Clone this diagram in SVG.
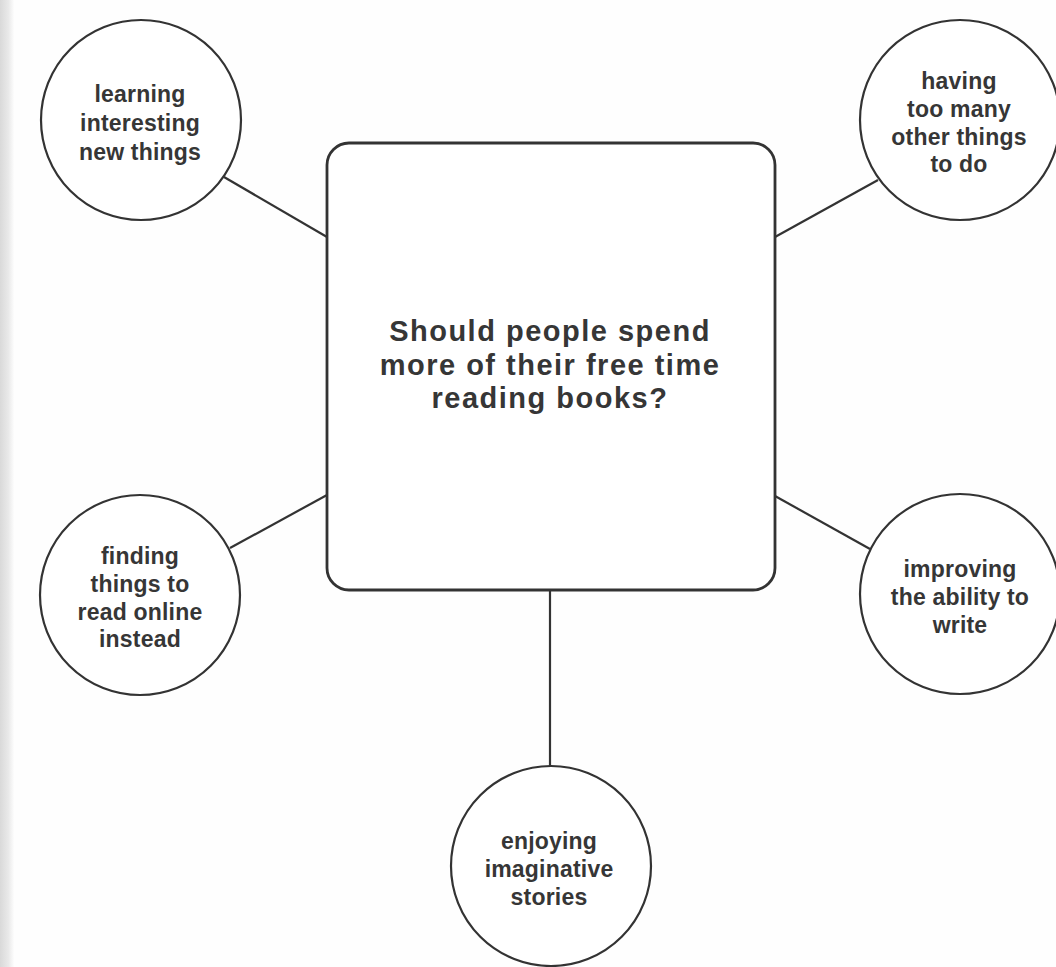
<svg xmlns="http://www.w3.org/2000/svg" width="1056" height="967" viewBox="0 0 1056 967">
  <defs>
    <linearGradient id="edge" x1="0" y1="0" x2="1" y2="0">
      <stop offset="0" stop-color="#d9d9d9"/>
      <stop offset="0.6" stop-color="#e9e9e9"/>
      <stop offset="1" stop-color="#fdfdfd"/>
    </linearGradient>
  </defs>
  <style>
    .bg { fill: #fefefe; }
    .node { fill: #ffffff; stroke: #333333; stroke-width: 2.2; }
    .box { fill: #ffffff; stroke: #333333; stroke-width: 2.8; }
    .conn { stroke: #333333; stroke-width: 2.2; fill: none; }
    .lbl { font-family: "Liberation Sans", Arial, Helvetica, sans-serif; font-weight: bold; font-size: 23px; letter-spacing: 0.2px; fill: #363636; text-anchor: middle; }
    .title { font-family: "Liberation Sans", Arial, Helvetica, sans-serif; font-weight: bold; font-size: 29px; letter-spacing: 1.5px; fill: #363636; text-anchor: middle; }
  </style>
  <rect class="bg" x="0" y="0" width="1056" height="967"/>
  <rect x="0" y="0" width="14" height="967" fill="url(#edge)"/>

  <g id="connectors">
    <line class="conn" x1="224" y1="177" x2="327" y2="237"/>
    <line class="conn" x1="878" y1="180" x2="775" y2="237"/>
    <line class="conn" x1="230" y1="548" x2="327" y2="495"/>
    <line class="conn" x1="775" y1="496" x2="870" y2="549"/>
    <line class="conn" x1="550" y1="590" x2="550" y2="767"/>
  </g>

  <g id="center">
    <rect class="box" x="327" y="143" width="448" height="447" rx="22" ry="22"/>
    <text class="title" x="550" y="341">Should people spend</text>
    <text class="title" x="550" y="374.5">more of their free time</text>
    <text class="title" x="550" y="408">reading books?</text>
  </g>

  <g id="node-learning">
    <circle class="node" cx="141" cy="120" r="100"/>
    <text class="lbl" x="140" y="102">learning</text>
    <text class="lbl" x="140" y="131">interesting</text>
    <text class="lbl" x="140" y="160">new things</text>
  </g>

  <g id="node-having">
    <circle class="node" cx="960" cy="120" r="100"/>
    <text class="lbl" x="959" y="89">having</text>
    <text class="lbl" x="959" y="117">too many</text>
    <text class="lbl" x="959" y="145">other things</text>
    <text class="lbl" x="959" y="172">to do</text>
  </g>

  <g id="node-finding">
    <circle class="node" cx="140" cy="595" r="100"/>
    <text class="lbl" x="140" y="564">finding</text>
    <text class="lbl" x="140" y="592">things to</text>
    <text class="lbl" x="140" y="620">read online</text>
    <text class="lbl" x="140" y="647">instead</text>
  </g>

  <g id="node-improving">
    <circle class="node" cx="960" cy="594" r="100"/>
    <text class="lbl" x="960" y="577">improving</text>
    <text class="lbl" x="960" y="605">the ability to</text>
    <text class="lbl" x="960" y="633">write</text>
  </g>

  <g id="node-enjoying">
    <circle class="node" cx="551" cy="866" r="100"/>
    <text class="lbl" x="549" y="849">enjoying</text>
    <text class="lbl" x="549" y="877">imaginative</text>
    <text class="lbl" x="549" y="905">stories</text>
  </g>
</svg>
